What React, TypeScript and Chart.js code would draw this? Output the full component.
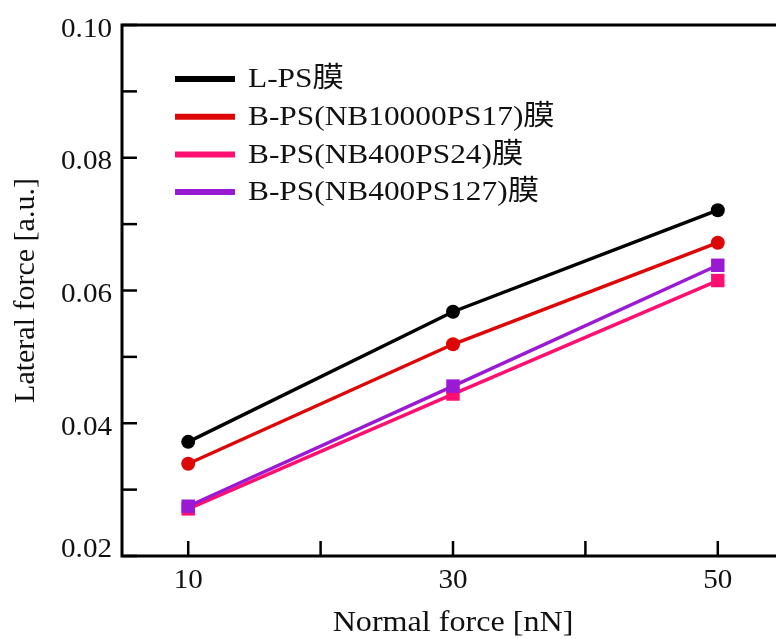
import React, { useEffect, useRef } from "react";
import { Chart, registerables } from "chart.js";

Chart.register(...registerables);

const normalForce = [10, 30, 50];
const xMajorTicks = [10, 30, 50];
const xMinorTicks = [20, 40];
const yMajorTicks = [0.02, 0.04, 0.06, 0.08, 0.1];
const yMinorTicks = [0.03, 0.05, 0.07, 0.09];

const seriesLabels = [
  "L-PS膜",
  "B-PS(NB10000PS17)膜",
  "B-PS(NB400PS24)膜",
  "B-PS(NB400PS127)膜",
];
const lpsValues = [0.0372, 0.0568, 0.0721];
const nb10000ps17Values = [0.0339, 0.0519, 0.0672];
const nb400ps24Values = [0.0271, 0.0444, 0.0615];
const nb400ps127Values = [0.0275, 0.0456, 0.0638];

const seriesColors = ["#000000", "#dd0707", "#ff1070", "#9a1ad4"];
const seriesMarkers = ["circle", "circle", "rect", "rect"];

const xTitle = "Normal force [nN]";
const yTitle = "Lateral force [a.u.]";

const FONT = '"Liberation Serif", "Times New Roman", "Noto Sans CJK JP", serif';

function stretchedText(ctx: any, text: string, x: number, y: number, sx: number, align: string) {
  ctx.save();
  ctx.translate(x, y);
  ctx.scale(sx, 1);
  ctx.textAlign = align;
  ctx.fillText(text, 0, 0);
  ctx.restore();
}

const framePlugin = {
  id: "frameAndTicks",
  beforeDatasetsDraw(chart: any) {
    const { ctx, chartArea } = chart;
    const xs = chart.scales.x;
    const ys = chart.scales.y;
    ctx.save();
    ctx.strokeStyle = "#000";
    ctx.lineWidth = 3;
    ctx.strokeRect(chartArea.left, chartArea.top, chartArea.right - chartArea.left, chartArea.bottom - chartArea.top);
    ctx.lineWidth = 2.5;
    const tl = 15;
    [...xMajorTicks, ...xMinorTicks].forEach((v) => {
      const px = xs.getPixelForValue(v);
      ctx.beginPath();
      ctx.moveTo(px, chartArea.bottom);
      ctx.lineTo(px, chartArea.bottom - tl);
      ctx.stroke();
    });
    [...yMajorTicks, ...yMinorTicks].forEach((v) => {
      const py = ys.getPixelForValue(v);
      ctx.beginPath();
      ctx.moveTo(chartArea.left, py);
      ctx.lineTo(chartArea.left + tl, py);
      ctx.stroke();
    });
    // tick labels
    ctx.fillStyle = "#111";
    ctx.font = `28px ${FONT}`;
    ctx.textBaseline = "alphabetic";
    yMajorTicks.forEach((v, i) => {
      const py = ys.getPixelForValue(v);
      const base = i === 0 ? py + 1 : py + 11.5;
      stretchedText(ctx, v.toFixed(2), chartArea.left - 10, base, 1.04, "right");
    });
    xMajorTicks.forEach((v) => {
      const px = xs.getPixelForValue(v);
      stretchedText(ctx, String(v), px, chartArea.bottom + 32, 1.04, "center");
    });
    ctx.restore();
  },
  afterDraw(chart: any) {
    const { ctx, chartArea } = chart;
    ctx.save();
    ctx.fillStyle = "#111";
    ctx.font = `30px ${FONT}`;
    ctx.textBaseline = "middle";
    stretchedText(ctx, xTitle, (chartArea.left + chartArea.right) / 2, 623, 1.07, "center");
    ctx.save();
    ctx.translate(26, (chartArea.top + chartArea.bottom) / 2);
    ctx.rotate(-Math.PI / 2);
    ctx.textAlign = "center";
    ctx.fillText(yTitle, 0, 0);
    ctx.restore();
    // legend
    const lx0 = chartArea.left + 53;
    const lx1 = chartArea.left + 113;
    const ty = chartArea.top + 54;
    const dy = 37.7;
    ctx.font = `28px ${FONT}`;
    chart.data.datasets.forEach((ds: any, i: number) => {
      const y = ty + i * dy;
      ctx.strokeStyle = ds.borderColor;
      ctx.lineWidth = 6;
      ctx.beginPath();
      ctx.moveTo(lx0, y);
      ctx.lineTo(lx1, y);
      ctx.stroke();
      ctx.fillStyle = "#111";
      stretchedText(ctx, ds.label, lx1 + 13, y + 1, 1.12, "left");
    });
    ctx.restore();
  },
};

export default function App() {
  const ref = useRef<HTMLCanvasElement | null>(null);
  useEffect(() => {
    if (!ref.current) return;
    const valueSets = [lpsValues, nb10000ps17Values, nb400ps24Values, nb400ps127Values];
    const drawOrder = [0, 1, 3, 2];
    const chart = new Chart(ref.current, {
      type: "line",
      data: {
        datasets: valueSets.map((vals, i) => ({
          label: seriesLabels[i],
          data: normalForce.map((x, j) => ({ x, y: vals[j] })),
          borderColor: seriesColors[i],
          backgroundColor: seriesColors[i],
          borderWidth: 3.5,
          pointStyle: seriesMarkers[i] as any,
          pointRadius: seriesMarkers[i] === "rect" ? 9.5 : 7,
          pointBorderWidth: 0,
          pointBackgroundColor: seriesColors[i],
          order: drawOrder[i],
          tension: 0,
        })),
      },
      options: {
        responsive: false,
        animation: false,
        layout: { padding: { top: 25, right: 16, left: 0, bottom: 0 } },
        plugins: { legend: { display: false }, tooltip: { enabled: false } },
        scales: {
          x: {
            type: "linear",
            min: 5,
            max: 55,
            grid: { display: false, drawTicks: false },
            border: { display: false },
            afterBuildTicks: (scale: any) => {
              scale.ticks = xMajorTicks.map((v) => ({ value: v }));
            },
            afterFit: (scale: any) => {
              scale.height = 83;
            },
            ticks: { display: false },
          },
          y: {
            type: "linear",
            min: 0.02,
            max: 0.1,
            grid: { display: false, drawTicks: false },
            border: { display: false },
            afterBuildTicks: (scale: any) => {
              scale.ticks = yMajorTicks.map((v) => ({ value: v }));
            },
            afterFit: (scale: any) => {
              scale.width = 122;
            },
            ticks: { display: false },
          },
        },
      },
      plugins: [framePlugin],
    });
    return () => chart.destroy();
  }, []);
  return (
    <div style={{ position: "fixed", left: 0, top: 0, width: 776, height: 639, overflow: "hidden", background: "#fff" }}>
      <canvas ref={ref} width={800} height={639} style={{ display: "block" }} />
    </div>
  );
}
